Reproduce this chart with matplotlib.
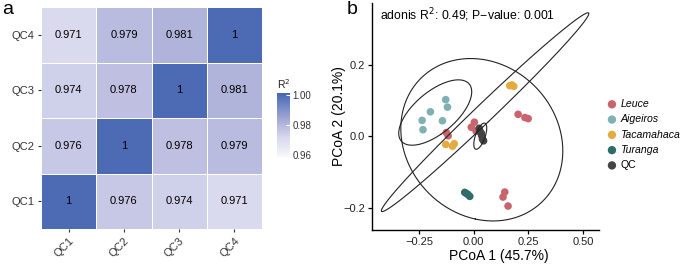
import numpy as np
import matplotlib
matplotlib.use("Agg")
import matplotlib.pyplot as plt
from matplotlib.colors import LinearSegmentedColormap, Normalize
from matplotlib.colorbar import ColorbarBase

plt.rcParams["font.family"] = ["Liberation Sans", "DejaVu Sans"]

# ---- panel a: QC correlation heatmap ----
qc_names = ["QC1", "QC2", "QC3", "QC4"]
r2_qc1 = [1.0, 0.976, 0.974, 0.971]
r2_qc2 = [0.976, 1.0, 0.978, 0.979]
r2_qc3 = [0.974, 0.978, 1.0, 0.981]
r2_qc4 = [0.971, 0.979, 0.981, 1.0]
cbar_ticks = [0.96, 0.98, 1.00]

# ---- panel b: PCoA ----
groups = ["Leuce", "Aigeiros", "Tacamahaca", "Turanga", "QC"]
colors = ["#c9646c", "#7eb0b4", "#e4ac3e", "#2f6b69", "#444444"]
leuce_x = [0.003, -0.011, 0.011, -0.125, -0.117, 0.203, 0.234, 0.249, 0.142, 0.134, 0.157]
leuce_y = [0.039, 0.025, 0.014, 0.010, 0.001, 0.061, 0.052, 0.049, -0.156, -0.170, -0.195]
aig_x = [-0.128, -0.120, -0.198, -0.236, -0.143, -0.232]
aig_y = [0.102, 0.081, 0.068, 0.044, 0.043, 0.018]
tac_x = [-0.128, -0.097, -0.089, 0.165, 0.183, 0.175]
tac_y = [-0.023, -0.028, -0.021, 0.141, 0.139, 0.143]
tur_x = [-0.041, -0.033, -0.026, -0.018]
tur_y = [-0.157, -0.160, -0.163, -0.168]
qc_x = [0.025, 0.030, 0.036, 0.040, 0.045, 0.035]
qc_y = [0.022, 0.012, 0.002, -0.008, -0.013, 0.008]
# 95% ellipses: centre and shape matrix (sxx, sxy, syy)
ell_cx = [0.037, -0.176, 0.052, 0.030]
ell_cy = [-0.010, 0.066, 0.067, 0.000]
ell_sxx = [0.1372, 0.02785, 0.2251, 0.000878]
ell_sxy = [-0.01159, 0.00966, 0.1306, 0.00067]
ell_syy = [0.05142, 0.00833, 0.07702, 0.001341]

fig = plt.figure(figsize=(6.85, 2.65), dpi=100)

# heatmap
mat = np.array([r2_qc1, r2_qc2, r2_qc3, r2_qc4])
cmap = LinearSegmentedColormap.from_list(
    "r2", [(0.0, "#f8f8fc"), (0.3, "#d9d9ee"), (0.5, "#b6b8dd"), (1.0, "#4666b2")])
norm = Normalize(vmin=0.9587, vmax=1.0013)
ax = fig.add_axes([0.0599, 0.1358, 0.3226, 0.8377])
ax.pcolormesh(np.arange(5) - 0.5, np.arange(5) - 0.5, mat, cmap=cmap, norm=norm,
              edgecolor="white", linewidth=0.6)
for i in range(4):
    for j in range(4):
        v = mat[i, j]
        ax.text(j, i, f"{v:g}", ha="center", va="center", fontsize=8, color="black")
ax.set_xlim(-0.5, 3.5); ax.set_ylim(-0.5, 3.5)
ax.set_xticks(range(4)); ax.set_yticks(range(4))
ax.set_xticklabels(qc_names, rotation=45, ha="right", rotation_mode="anchor", fontsize=8, color="#333333")
ax.set_yticklabels(qc_names, fontsize=8, color="#333333")
ax.tick_params(length=2.5, width=0.8, color="#333333", pad=2)
for s in ax.spines.values():
    s.set_visible(False)
fig.text(0.003, 0.965, "a", fontsize=14, va="center", ha="left")

cax = fig.add_axes([0.4044, 0.4075, 0.019, 0.2415])
cb = ColorbarBase(cax, cmap=cmap, norm=norm, ticks=cbar_ticks)
cb.outline.set_visible(False)
cb.ax.tick_params(length=3, width=0.8, color="white", direction="in", labelsize=7, labelcolor="#333333", pad=2)
cb.ax.set_yticklabels([f"{t:.2f}" for t in cbar_ticks])
cax.set_title("R$^2$", fontsize=7.5, loc="left", pad=3, color="#222222")

# PCoA
bx = fig.add_axes([0.5431, 0.132, 0.3314, 0.857])
xs = [leuce_x, aig_x, tac_x, tur_x, qc_x]
ys = [leuce_y, aig_y, tac_y, tur_y, qc_y]
for g, c, x, y in zip(groups, colors, xs, ys):
    bx.scatter(x, y, s=30, color=c, edgecolors="none", label=g, zorder=2)
t = np.linspace(0, 2 * np.pi, 300)
for cx, cy, a, b, d in zip(ell_cx, ell_cy, ell_sxx, ell_sxy, ell_syy):
    vals, vecs = np.linalg.eigh(np.array([[a, b], [b, d]]))
    pts = vecs @ np.diag(np.sqrt(vals)) @ np.vstack([np.cos(t), np.sin(t)])
    bx.plot(cx + pts[0], cy + pts[1], color="#222222", lw=0.8, zorder=3)
bx.set_xlim(-0.465, 0.573)
bx.set_ylim(-0.262, 0.372)
bx.set_xticks([-0.25, 0.0, 0.25, 0.50])
bx.set_xticklabels(["\u22120.25", "0.00", "0.25", "0.50"])
bx.set_yticks([-0.2, 0.0, 0.2])
bx.set_yticklabels(["\u22120.2", "0.0", "0.2"])
bx.tick_params(labelsize=8, length=3, width=0.9, pad=2, labelcolor="#222222")
for side in ["top", "right"]:
    bx.spines[side].set_visible(False)
for side in ["left", "bottom"]:
    bx.spines[side].set_linewidth(1.0)
bx.set_xlabel("PCoA 1 (45.7%)", fontsize=10, labelpad=1)
bx.xaxis.set_label_coords(0.56, -0.085, transform=bx.transAxes)
bx.xaxis.label.set_va("top")
bx.set_ylabel("PCoA 2 (20.1%)", fontsize=10)
bx.yaxis.set_label_coords(-0.115, 0.5, transform=bx.transAxes)
bx.text(0.033, 0.947, "adonis R$^2$: 0.49; P\u2212value: 0.001", transform=bx.transAxes,
        fontsize=8.8, va="center", ha="left")
fig.text(0.506, 0.965, "b", fontsize=14, va="center", ha="left")

leg = bx.legend(loc="center left", bbox_to_anchor=(1.015, 0.42), frameon=False,
                fontsize=7.6, handletextpad=0.3, labelspacing=0.5, markerscale=1.1,
                handlelength=1.0, borderaxespad=0)
for txt in leg.get_texts():
    if txt.get_text() != "QC":
        txt.set_style("italic")

fig.savefig("out.png", dpi=100)
